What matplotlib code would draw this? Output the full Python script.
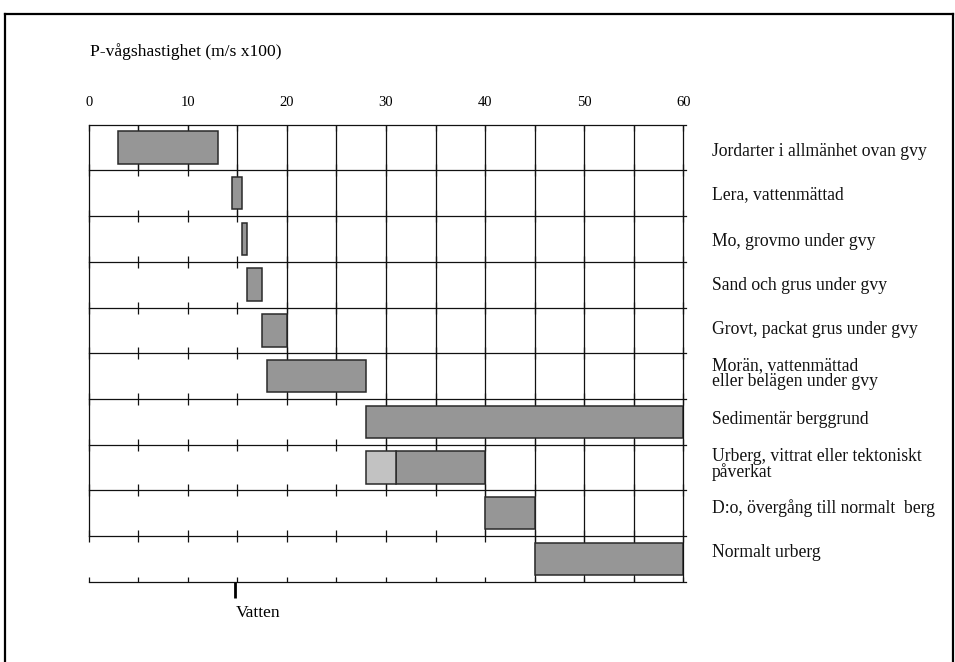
import matplotlib
matplotlib.use("Agg")
import matplotlib.pyplot as plt
from matplotlib.lines import Line2D

plt.rcParams['font.family'] = ['Liberation Serif', 'DejaVu Serif']

# ---- data ----
categories = [
    "Jordarter i allmänhet ovan gvy",
    "Lera, vattenmättad",
    "Mo, grovmo under gvy",
    "Sand och grus under gvy",
    "Grovt, packat grus under gvy",
    "Morän, vattenmättad\neller belägen under gvy",
    "Sedimentär berggrund",
    "Urberg, vittrat eller tektoniskt\npåverkat",
    "D:o, övergång till normalt  berg",
    "Normalt urberg",
]
v_min = [3, 14.5, 15.5, 16, 17.5, 18, 28, 31, 40, 45]
v_max = [13, 15.5, 16, 17.5, 20, 28, 60, 40, 45, 60]
# lighter (uncertain) part of the 'Urberg, vittrat' range
light_row = 7
light_min = 28
light_max = 31
water_velocity = 14.8
xticks = [0, 10, 20, 30, 40, 50, 60]
xlabel = "P-vågshastighet (m/s x100)"
water_label = "Vatten"

# ---- layout ----
W, H = 955, 662
fig = plt.figure(figsize=(W / 100, H / 100), dpi=100)
x0_px, x1_px = 88.7, 683.3
top_px, bot_px = 124.7, 581.7
ax = fig.add_axes([x0_px / W, 1 - bot_px / H, (x1_px - x0_px) / W, (bot_px - top_px) / H])
ax.set_xlim(0, 60)
ax.set_ylim(10, 0)
ax.axis('off')

row_px = (bot_px - top_px) / 10
px = 1.0 / row_px  # one pixel in row units
nrows = len(categories)
label_y = [0.586, 1.538, 2.556, 3.508, 4.492, 5.444, 6.451, 7.435, 8.398, 9.361]

lc = '#111111'
lw = 0.9
grid_x = list(range(0, 61, 5))

# horizontal row boundaries
for b in range(0, nrows + 1):
    ax.plot([0, 60.3], [b, b], color=lc, lw=lw, clip_on=False, zorder=2)

# left frame line of the grid (rows 1-9)
ax.plot([0, 0], [0, 9], color=lc, lw=lw, clip_on=False, zorder=2)

# full vertical lines to the right of each bar start
for i in range(nrows):
    start = min(v_min[i], light_min) if i == light_row else v_min[i]
    xs = [g for g in grid_x if g >= start and g > 0]
    ax.vlines(xs, i, i + 1, color=lc, lw=lw, zorder=2, clip_on=False)

# ticks on boundaries
for b in range(0, nrows + 1):
    if b == 0:
        y0, y1 = 0, 6.7 * px
    elif b == nrows:
        y0, y1 = b - 5 * px, b
    else:
        y0, y1 = b - 6 * px, b + 6 * px
    ax.vlines(grid_x, y0, y1, color=lc, lw=lw, zorder=2, clip_on=False)

# bars
bar_h = 0.71
dark = '#969696'
light = '#c2c2c2'
ec = '#2a2a2a'
ys = [i + 0.5 for i in range(nrows)]
ax.barh(ys, [b - a for a, b in zip(v_min, v_max)], left=v_min, height=bar_h,
        color=dark, edgecolor=ec, linewidth=1.1, zorder=3)
ax.barh([light_row + 0.5], [light_max - light_min], left=[light_min], height=bar_h,
        color=light, edgecolor=ec, linewidth=1.1, zorder=3)

# row labels
for lab, y in zip(categories, label_y):
    ax.text(62.87, y, lab, ha='left', va='center', fontsize=12.7, linespacing=0.92,
            clip_on=False, color='#111111')

# top tick labels
for t in xticks:
    ax.text(t, -0.475, str(t), ha='center', va='center', fontsize=10.5, clip_on=False)

# axis title
ax.text(0.1, -1.59, xlabel, ha='left', va='center', fontsize=12.6, clip_on=False)

# water marker
ax.plot([water_velocity, water_velocity], [10, 10 + 16.6 * px], color='black', lw=2.0,
        clip_on=False, solid_capstyle='butt')
ax.text(water_velocity + 0.07, 10 + (613 - bot_px) * px, water_label, ha='left', va='center',
        fontsize=12.6, clip_on=False)

# outer frame
fx0, fx1, fy0 = 4.5 / W, 953 / W, 1 - 14 / H
fig.add_artist(Line2D([fx0, fx1], [fy0, fy0], transform=fig.transFigure, color='black', lw=1.6))
fig.add_artist(Line2D([fx0, fx0], [fy0, -0.02], transform=fig.transFigure, color='black', lw=1.6))
fig.add_artist(Line2D([fx1, fx1], [fy0, -0.02], transform=fig.transFigure, color='black', lw=1.6))

fig.savefig("out.png", dpi=100, facecolor='white')
